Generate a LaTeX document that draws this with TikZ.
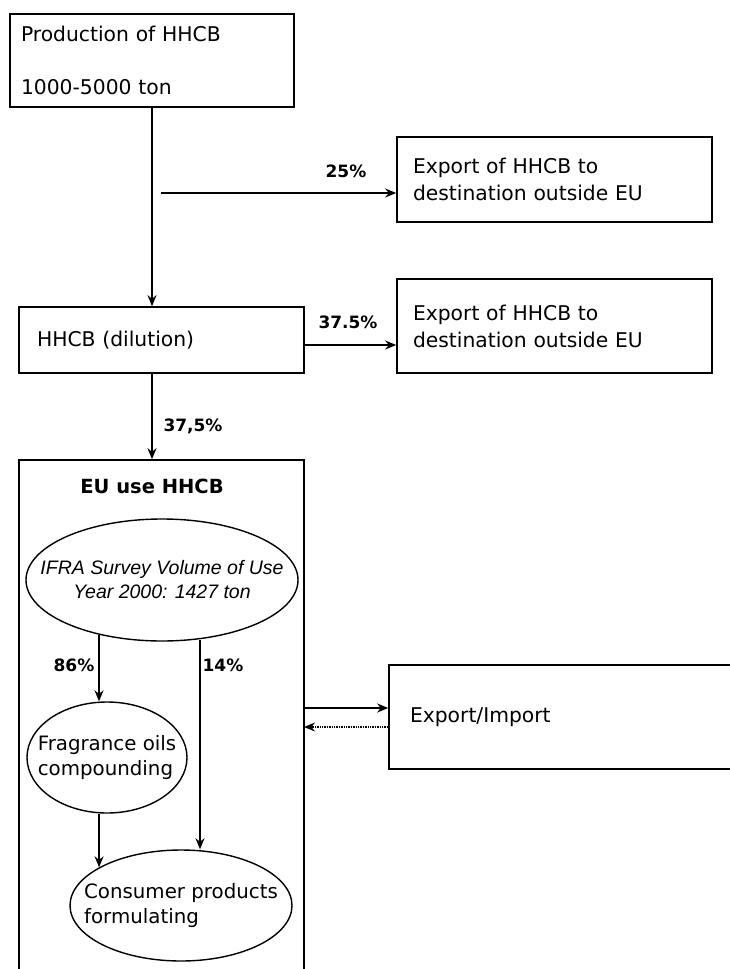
\documentclass[tikz,border=0pt]{standalone}
\usepackage{fontspec}
\setmainfont{DejaVu Sans}
\newfontfamily\ifrafont{Liberation Sans}
\usetikzlibrary{shapes.geometric,arrows.meta}
\tikzset{
  box/.style={draw,rectangle,line width=1.6pt,inner ysep=0pt,align=left,font=\fontsize{20.3}{27}\selectfont},
  oval/.style={draw,ellipse,line width=1.4pt,inner sep=0pt},
  ovaltext/.style={inner sep=0pt,align=left,font=\fontsize{19.8}{25}\selectfont},
  flow/.style={->,line width=1.4pt},
  pct/.style={font=\fontsize{17}{20}\selectfont\bfseries},
}
\begin{document}
\begin{tikzpicture}[x=1pt,y=-1pt,>={Stealth[length=11pt,width=9pt,inset=3.5pt]}]
	\useasboundingbox (0,0) rectangle (729,969);
	% boxes
	\node[box,minimum width=284pt,minimum height=93pt,text width=262pt,inner xsep=11pt] (prod) at (152,60.5) {Production of HHCB\\[26pt]1000-5000 ton};
	\node[box,minimum width=315pt,minimum height=85pt,text width=283pt,inner xsep=16pt] (exp1) at (554.5,179.5) {Export of HHCB to\\destination outside EU};
	\node[box,minimum width=285pt,minimum height=66pt,text width=249pt,inner xsep=18pt] (dil) at (161.5,340) {HHCB (dilution)};
	\node[box,minimum width=315pt,minimum height=94pt,text width=283pt,inner xsep=16pt] (exp2) at (554.5,326) {Export of HHCB to\\destination outside EU};
	\node[box,minimum width=285pt,minimum height=540pt] (eu) at (161.5,730) {};
	\node[font=\fontsize{19.5}{24}\selectfont\bfseries] (eutitle) at (152,486) {EU use HHCB};
	\node[box,minimum width=411pt,minimum height=104pt,text width=369pt,inner xsep=21pt] (expimp) at (594.5,717) {Export/Import};
	% ovals
	\node[oval,minimum width=272pt,minimum height=122pt] (ifra) at (162,580) {};
	\node[ovaltext,align=center,font=\ifrafont\itshape\fontsize{19.5}{24}\selectfont] (ifratext) at (ifra) {IFRA Survey Volume of Use\\Year 2000: 1427 ton};
	\node[oval,minimum width=160pt,minimum height=111pt] (frag) at (107,757.5) {};
	\node[ovaltext] (fragtext) at (frag) {Fragrance oils\\compounding};
	\node[oval,minimum width=222pt,minimum height=111pt] (cons) at (181,905.5) {};
	\node[ovaltext] (constext) at (cons) {Consumer products\\formulating};
	% arrows
	\coordinate (split) at (161,193);
	\coordinate (io1) at (304,708);
	\coordinate (io2) at (304,727);
	\coordinate (c14) at (200,640);
	\draw[flow] (prod.south) -- (prod.south |- dil.north);
	\draw[flow] (split) -- (split -| exp1.west);
	\draw[flow] ([yshift=-5pt]dil.east) -- ([yshift=-5pt]dil.east -| exp2.west);
	\draw[flow] (prod.south |- dil.south) -- (prod.south |- eu.north);
	\draw[flow] (ifra.221) -- (ifra.221 |- frag.north);
	\draw[flow] (c14) -- (c14 |- cons.north);
	\draw[flow] (cons.155 |- frag.south) -- (cons.155);
	\draw[flow] (io1) -- (io1 -| expimp.west);
	\draw[flow,densely dotted] (io2 -| expimp.west) -- (io2);
	% percentages
	\node[pct] (p25) at (346,171) {25\%};
	\node[pct] (p375a) at (348,322) {37.5\%};
	\node[pct] (p375b) at (193,426) {37,5\%};
	\node[pct] (p86) at (74,665) {86\%};
	\node[pct] (p14) at (223,665) {14\%};
\end{tikzpicture}
\end{document}
